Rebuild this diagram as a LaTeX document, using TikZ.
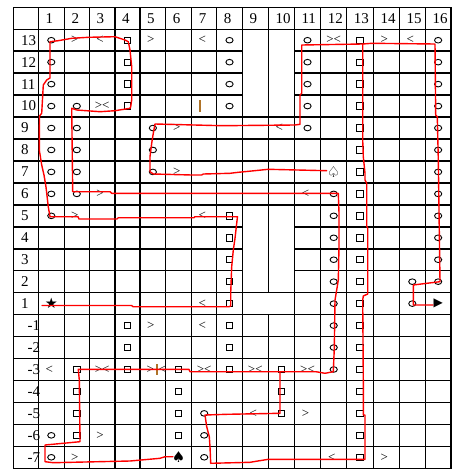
\documentclass[tikz,border=0pt]{standalone}
\usepackage{fontspec}
\setmainfont{Liberation Serif}
\newfontfamily\symfont{DejaVu Sans}
\usetikzlibrary{shapes.geometric}
\definecolor{barcol}{RGB}{175,115,40}
\definecolor{pathred}{RGB}{255,0,0}
\begin{document}
\begin{tikzpicture}[x=1pt,y=-1pt,
  gridline/.style={line width=1.5pt, black, line cap=rect},
  redpath/.style={draw=pathred, line width=1.4pt, line join=round, line cap=round},
  circ/.style={draw, ellipse, inner sep=0pt, minimum width=7.2pt, minimum height=5.6pt, line width=0.9pt},
  sq/.style={draw, rectangle, inner sep=0pt, minimum size=6.4pt, line width=0.9pt},
  chev/.style={inner sep=0pt, font=\fontsize{13}{13}\selectfont},
  lbl/.style={inner sep=0pt, anchor=west, font=\fontsize{15}{15}\selectfont},
  barline/.style={draw=barcol, line width=1.2pt},
  symb/.style={inner sep=0pt, font=\symfont\fontsize{12}{12}\selectfont}
]
\useasboundingbox (0,0) rectangle (459,471);
\fill[white] (0,0) rectangle (459,471);

% ---- grid ----
\foreach \k in {0,1,5,6,7,8,9,13,14,15,16,17,18,19,20,21}
  \draw[gridline] (13.3,{7.3+\k*21.95}) -- (451,{7.3+\k*21.95});
\foreach \k in {2,3,4,10,11,12} {
  \draw[gridline] (13.3,{7.3+\k*21.95}) -- (242.3,{7.3+\k*21.95});
  \draw[gridline] (294.3,{7.3+\k*21.95}) -- (451,{7.3+\k*21.95});
}
\foreach \x in {13.3,38.3,64.3,89.3,115,140,165.7,191.7,216.7,242.3,294.3,320.7,346.7,373.3,399.3,425.3,451}
  \draw[gridline] (\x,7.3) -- (\x,{7.3+21*21.95});
\draw[gridline] (268.3,7.3) -- (268.3,{7.3+13*21.95});
\draw[gridline] (268.3,{7.3+14*21.95}) -- (268.3,{7.3+21*21.95});

% ---- named positions ----
\foreach \c/\x in {1/51.3,2/76.8,3/102.15,4/127.5,5/152.85,6/178.7,7/204.2,8/229.5,9/255.3,10/281.3,11/307.5,12/333.7,13/360,14/386.3,15/412.3,16/438.15}
  \coordinate (c\c) at (\x,0);
\foreach \c/\x in {1/38.3,2/64.3,3/89.3,4/115,5/140,6/165.7,7/191.7,8/216.7,9/242.3,10/268.3,11/294.3,12/320.7,13/346.7,14/373.3,15/399.3,16/425.3}
  \coordinate (l\c) at (\x,0);
\coordinate (r0) at (0,18.3);
\foreach \n/\i in {13/1,12/2,11/3,10/4,9/5,8/6,7/7,6/8,5/9,4/10,3/11,2/12,1/13,m1/14,m2/15,m3/16,m4/17,m5/18,m6/19,m7/20}
  \coordinate (r\n) at (0,{7.3+(\i+0.5)*21.95});

% ---- headers ----
\foreach \c in {1,...,16}
  \node[lbl, xshift=7pt] (h\c) at (l\c |- r0) {\c};
\foreach \n in {13,12,11,10,9,8,7,6,5,4,3,2,1}
  \node[lbl, xshift=20.8pt] (v\n) at (r\n) {\n};
\foreach \n/\t in {m1/-1,m2/-2,m3/-3,m4/-4,m5/-5,m6/-6,m7/-7}
  \node[lbl, xshift=27.5pt] (v\n) at (r\n) {\t};

% ---- circles ----
\foreach \c/\n in {1/13,1/12,1/11,1/10,1/9,1/8,1/7,1/6,1/5,1/m6,1/m7,
  2/10,2/9,2/8,2/7,2/6, 5/9,5/8,5/7, 7/m5,7/m6,7/m7,
  8/13,8/12,8/11,8/10, 11/13,11/12,11/11,11/10,11/9,
  12/6,12/5,12/4,12/3,12/2,12/1,12/m1,12/m2,12/m3, 15/2,15/1,
  16/13,16/12,16/11,16/10,16/9,16/8,16/7,16/6,16/5,16/4,16/3,16/2}
  \node[circ] (o\c-\n) at (c\c |- r\n) {};

% ---- squares ----
\foreach \c/\n in {2/m3,2/m4,2/m5,2/m6, 4/13,4/12,4/11,4/10,4/m1,4/m2,4/m3,
  6/m3,6/m4,6/m5,6/m6, 8/5,8/4,8/3,8/2,8/1,8/m1,8/m2,8/m3, 10/m3,10/m4,10/m5,
  13/13,13/12,13/11,13/10,13/9,13/8,13/7,13/6,13/5,13/4,13/3,13/2,13/1,13/m1,13/m2,13/m3,13/m4,13/m5,13/m6,13/m7}
  \node[sq] (s\c-\n) at (c\c |- r\n) {};

% ---- chevrons ----
\foreach \c/\n in {2/13,5/13,14/13,6/9,6/7,3/6,2/5,5/m1,11/m5,3/m6,2/m7,14/m7}
  \node[chev, xshift=-2pt] (gt\c-\n) at (c\c |- r\n) {>};
\foreach \c/\n in {3/13,7/13,15/13,10/9,11/6,7/5,7/1,7/m1,1/m3,9/m5,12/m7}
  \node[chev, xshift=-2pt] (lt\c-\n) at (c\c |- r\n) {<};
\foreach \c/\n in {12/13,3/10,3/m3,7/m3,9/m3,11/m3}
  \node[chev] (gl\c-\n) at (c\c |- r\n) {><};
\node[chev] (gx5) at ([xshift=150.3pt]rm3) {>};
\node[chev] (lx5) at ([xshift=162.5pt]rm3) {<};
\coordinate (bx5) at ([xshift=157pt]rm3);
\draw[barline] ([yshift=-5.5pt]bx5) -- ([yshift=5.5pt]bx5);
\coordinate (bar7) at ([xshift=200pt]r10);
\draw[barline] ([yshift=-5.8pt]bar7) -- ([yshift=5.8pt]bar7);

% ---- special marks ----
\node[symb, font=\symfont\fontsize{14.5}{14.5}\selectfont] (star) at ([yshift=0.5pt]c1 |- r1) {★};
\node[symb, font=\symfont\fontsize{12}{12}\selectfont] (goal) at (c16 |- r1) {▶};
\node[symb, font=\symfont\fontsize{15}{15}\selectfont] (spade) at (c6 |- rm7) {♠};
\node[symb, font=\symfont\fontsize{15}{15}\selectfont] (wspade) at (c12 |- r7) {♤};

% ---- red path ----
\draw[redpath] (42,305.5) -- (131.7,305.5) -- (133,306.7) -- (229,306.7) -- (230.7,306) -- (230.7,293.3)
  -- (231.7,266.7) -- (233.3,250) -- (235,238.3) -- (236.7,223.3) -- (237.5,216.7) -- (195,216.7)
  -- (194,217.7) -- (118.3,217.7) -- (117,219) -- (79,219) -- (78,216.7) -- (50,216.7)
  -- (48.3,207) -- (46,187) -- (44,175) -- (41.7,165) -- (39.3,150) -- (39.5,116) -- (41.7,113.3)
  -- (43.3,85) -- (46.7,80) -- (50,78) -- (50,41.7) -- (58.3,40.7) -- (71.7,38.3) -- (88.3,37.3)
  -- (115,36.7) -- (125,40) -- (128.3,41.7) -- (130,50) -- (131.7,66.7) -- (131.7,100) -- (130.7,106.7)
  -- (130,108.3) -- (115,110.7) -- (100,111.7) -- (76.7,110) -- (71.7,108.3) -- (72.7,191.7)
  -- (110,191.7) -- (111.7,193.3) -- (338.3,193.3) -- (339,213) -- (339,246.7) -- (338.3,280)
  -- (336.7,290) -- (335,300) -- (334.3,348.3) -- (333.3,371.7) -- (325,373.3) -- (316,371.7)
  -- (190,371.7) -- (189,369.3) -- (78.3,369.3) -- (79.3,380) -- (80,441.7) -- (45,445)
  -- (45,461.7) -- (53.3,462.7) -- (130,461) -- (160,458.3) -- (165,456.7) -- (173,456.7);
\draw[redpath] (280,371.7) -- (280,413.3) -- (226.7,414.3) -- (205,415) -- (206.7,426.7)
  -- (209.3,436.7) -- (210,446.7) -- (210.7,463.3) -- (250,462.3) -- (268.3,459.3) -- (365,459.3)
  -- (365,415) -- (363.3,415) -- (363.3,380) -- (362.7,300) -- (363.3,296) -- (367.7,294)
  -- (367.7,228.3) -- (366.7,226) -- (366.7,183.3) -- (365,180) -- (365,173.3) -- (363.3,156.7)
  -- (362.7,140) -- (362.7,44) -- (371.7,43.3) -- (435,44) -- (435.7,115) -- (437.3,116.7)
  -- (438.3,160) -- (440,281.7) -- (426.7,283.3) -- (413.3,285) -- (413.3,305) -- (433,305);
\draw[redpath] (362.7,44) -- (301.7,45) -- (301.7,93.3) -- (300,95) -- (300,124.3) -- (295,125)
  -- (221.7,125.7) -- (155,124) -- (153.3,133.3) -- (151.7,143.3) -- (150,156.7) -- (150,171.7)
  -- (153.3,174) -- (191.7,175) -- (201.7,175) -- (203.3,174) -- (230,173.3) -- (238.3,172.3)
  -- (251.7,171) -- (268.3,169.3) -- (326.7,170.7);
\end{tikzpicture}
\end{document}
